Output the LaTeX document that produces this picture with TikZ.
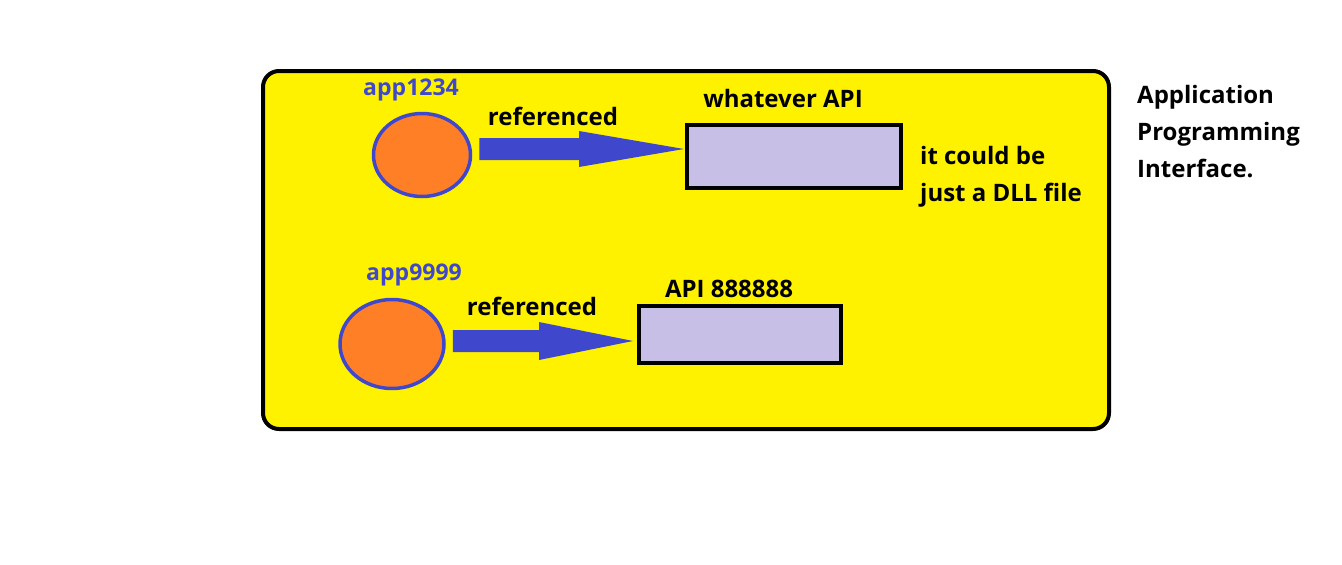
\documentclass[tikz,border=0pt]{standalone}
\usepackage{fontspec}
\setmainfont{Open Sans}
\usetikzlibrary{calc,shapes.geometric}
\definecolor{pyellow}{HTML}{FFF200}
\definecolor{porange}{HTML}{FF7F27}
\definecolor{pblue}{HTML}{3F48CC}
\definecolor{plav}{HTML}{C8BFE7}
\begin{document}
\begin{tikzpicture}[x=1pt,y=-1pt,
  app/.style={ellipse,draw=pblue,fill=porange,line width=3.5pt,inner sep=0pt},
  apibox/.style={rectangle,draw=black,fill=plav,line width=4pt,inner sep=0pt},
  applabel/.style={text=pblue,font=\fontsize{23}{30}\selectfont\bfseries,inner sep=0pt},
  lbl/.style={text=black,font=\fontsize{24}{37}\selectfont\bfseries,inner sep=0pt},
  bigarrow/.style={fill=pblue,draw=none}]
\useasboundingbox (0,0) rectangle (1342,565);
\fill[white] (0,0) rectangle (1342,565);
\node[draw=black,fill=pyellow,line width=4pt,rounded corners=16pt,minimum width=846pt,minimum height=358pt,inner sep=0pt] (frame) at (686,250) {};
% app 1
\node[app,minimum width=97pt,minimum height=83pt] (c1) at (422,155) {};
\node[applabel] (l1) at (411,90) {app1234};
\node[apibox,minimum width=214pt,minimum height=63pt] (r1) at (794,156) {};
\node[lbl] (t1) at (783,98) {whatever API};
\node[lbl] (ref1) at (553,116) {referenced};
\coordinate (s1) at ($(c1.east)+(7,-6)$);
\coordinate (e1) at ($(r1.west)+(-1,-7)$);
\fill[bigarrow] ($(s1)+(0,-11)$) -- ($(e1)+(-105,-11)$) -- ($(e1)+(-105,-18)$) -- (e1) -- ($(e1)+(-105,18)$) -- ($(e1)+(-105,11)$) -- ($(s1)+(0,11)$) -- cycle;
\node[lbl,align=left,anchor=west] (note) at (920,177) {it could be\\just a DLL file};
% app 2
\node[app,minimum width=104pt,minimum height=89pt] (c2) at (392,344) {};
\node[applabel] (l2) at (414,275) {app9999};
\node[apibox,minimum width=202pt,minimum height=57pt] (r2) at (740,334) {};
\node[lbl] (t2) at (729,289) {API 888888};
\node[lbl] (ref2) at (532,306) {referenced};
\coordinate (s2) at ($(c2.east)+(7,-3)$);
\coordinate (e2) at ($(r2.west)+(-4,7)$);
\fill[bigarrow] ($(s2)+(0,-11)$) -- ($(e2)+(-94,-11)$) -- ($(e2)+(-94,-19)$) -- (e2) -- ($(e2)+(-94,19)$) -- ($(e2)+(-94,11)$) -- ($(s2)+(0,11)$) -- cycle;
% side text
\node[lbl,align=left,anchor=west] (side) at (1137,132) {Application\\Programming\\Interface.};
\end{tikzpicture}
\end{document}
